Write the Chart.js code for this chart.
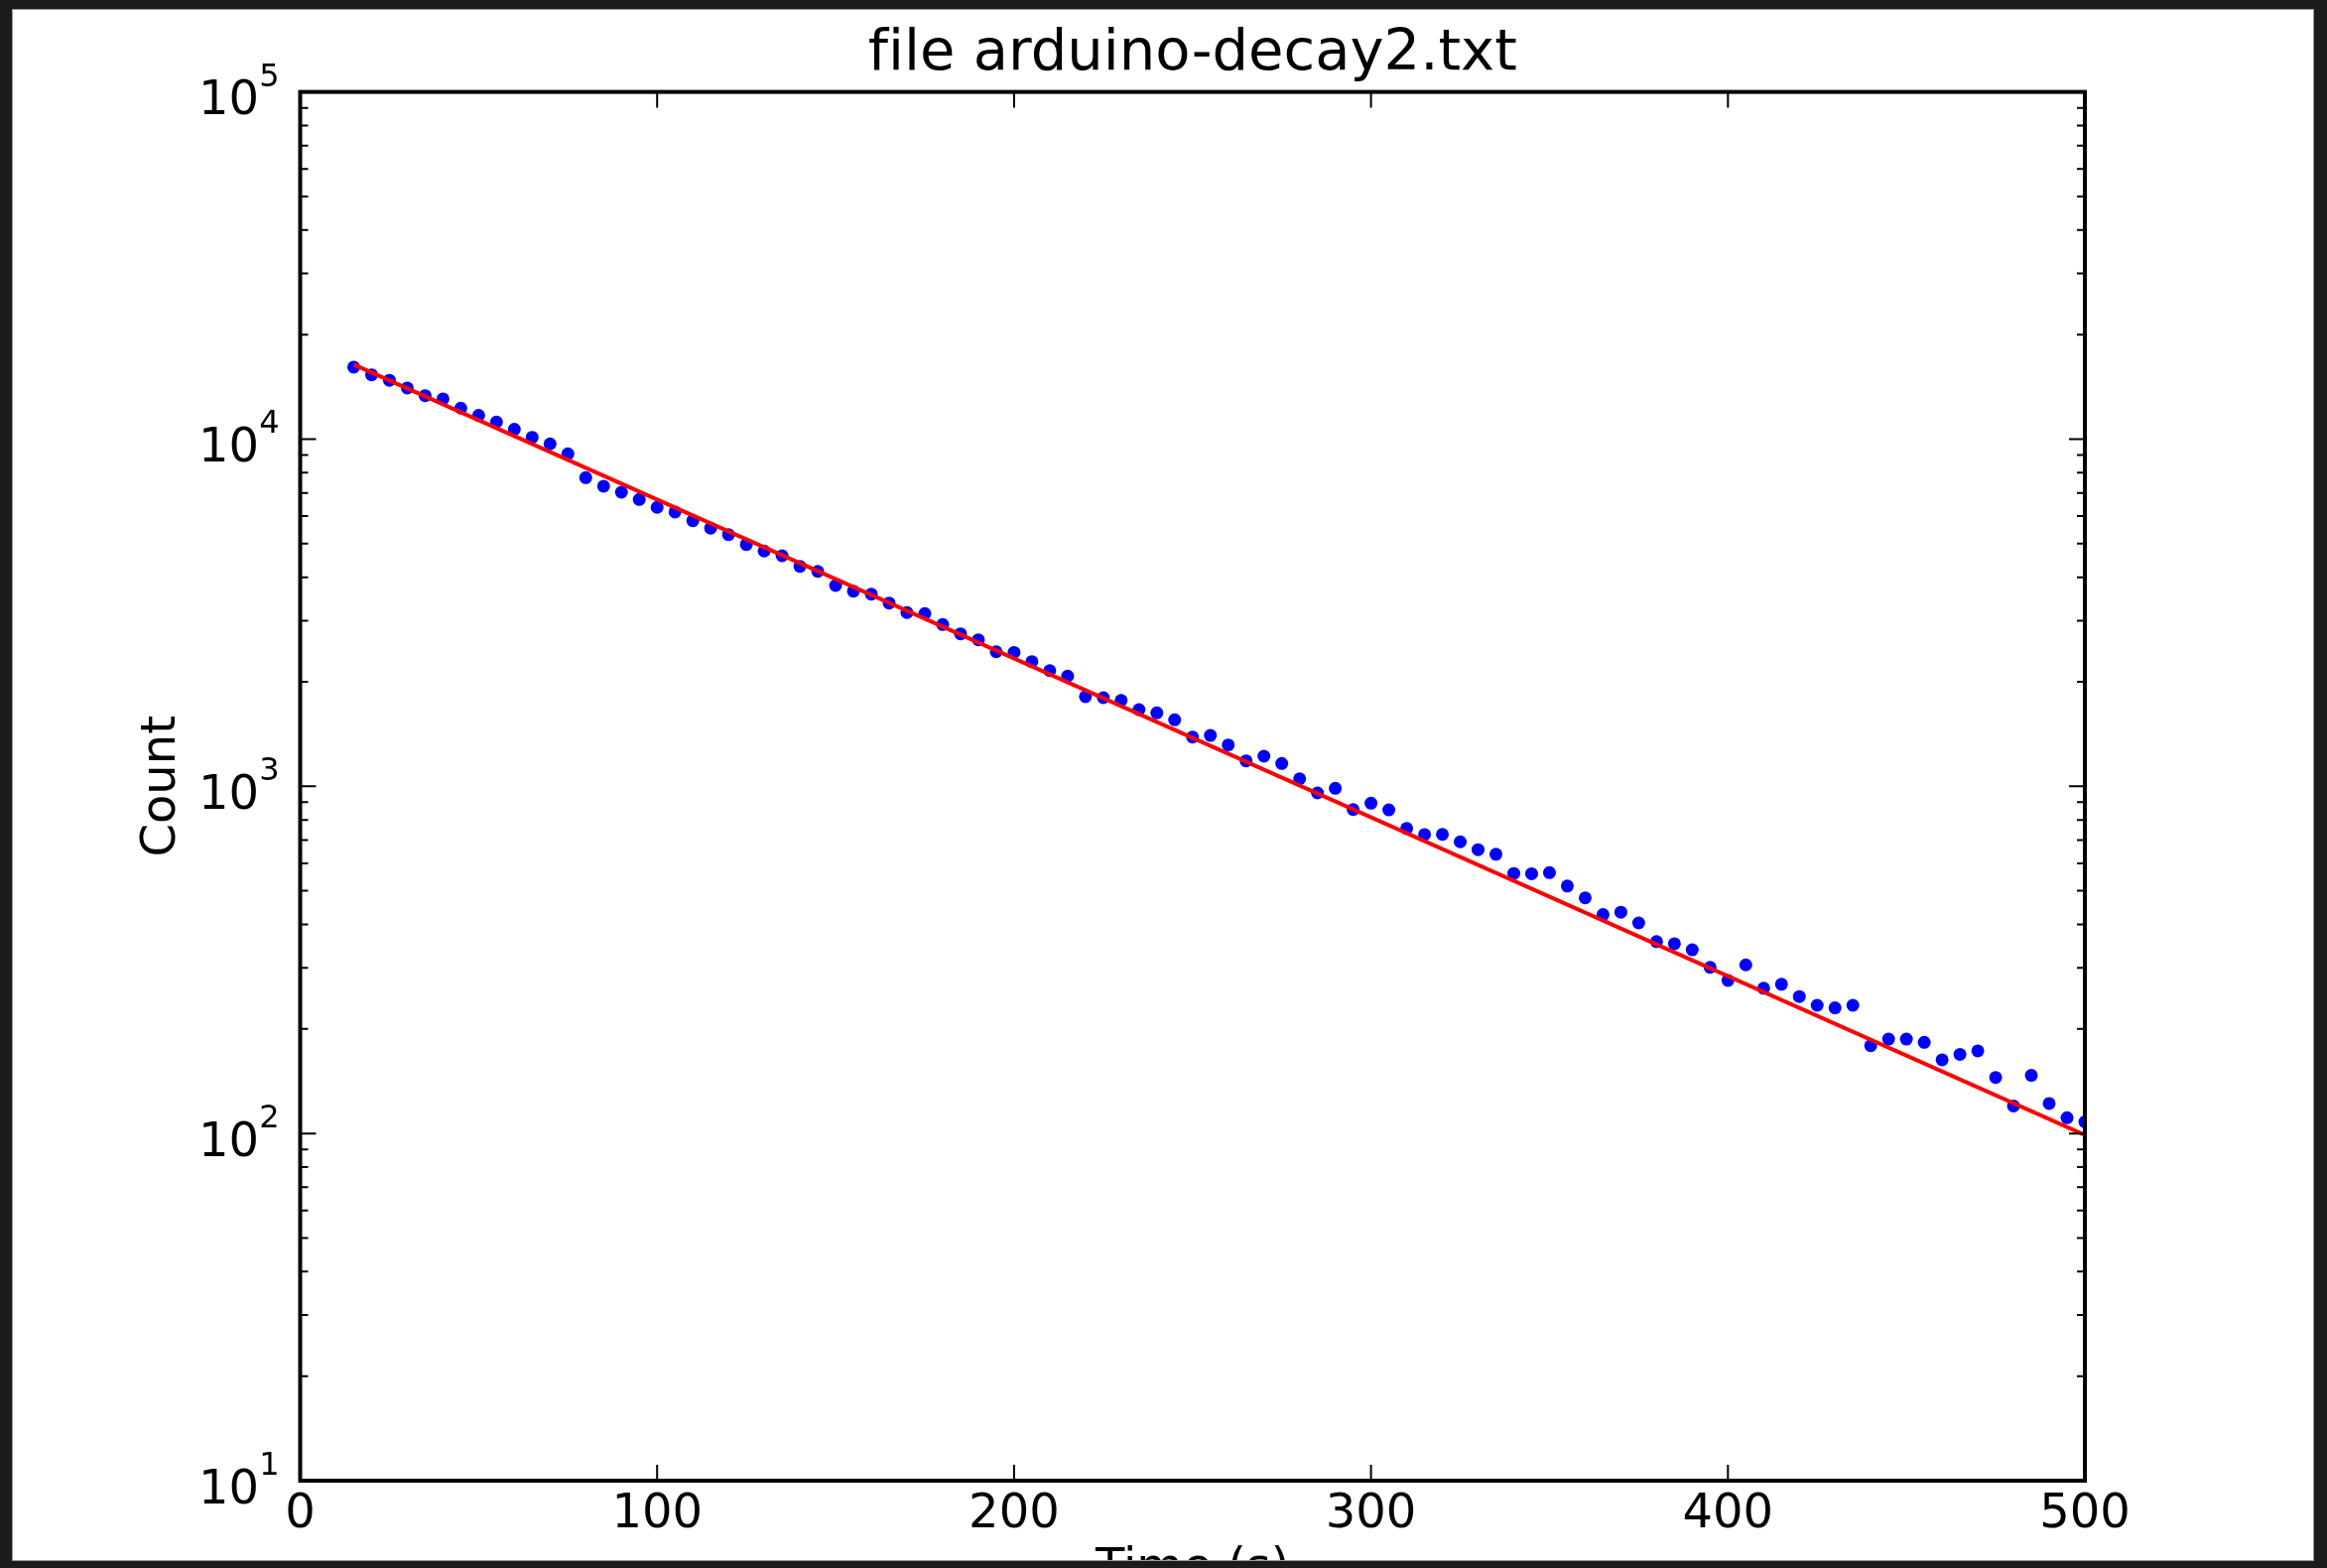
<!DOCTYPE html>
<html>
<head>
<meta charset="utf-8">
<script src="https://cdn.jsdelivr.net/npm/chart.js@4.4.1/dist/chart.umd.min.js"></script>
<style>
html, body { margin: 0; padding: 0; }
body { width: 2345px; height: 1580px; background: #1b1b1b; overflow: hidden; position: relative; }
#frame { position: absolute; left: 13px; top: 10px; width: 2318px; height: 1562px; background: #ffffff; overflow: hidden; box-shadow: 0 0 0 1px #9a9a9a; }
#wrap { position: absolute; left: 0; top: 0; width: 2318px; height: 1640px; }
canvas { font-variant-ligatures: none; }
</style>
</head>
<body>
<div id="frame"><div id="wrap"><canvas id="c" width="2318" height="1640"></canvas></div></div>
<script>
// ---- data ----
const timeValues = [
  15, 20, 25, 30, 35, 40, 45, 50, 55, 60,
  65, 70, 75, 80, 85, 90, 95, 100, 105, 110,
  115, 120, 125, 130, 135, 140, 145, 150, 155, 160,
  165, 170, 175, 180, 185, 190, 195, 200, 205, 210,
  215, 220, 225, 230, 235, 240, 245, 250, 255, 260,
  265, 270, 275, 280, 285, 290, 295, 300, 305, 310,
  315, 320, 325, 330, 335, 340, 345, 350, 355, 360,
  365, 370, 375, 380, 385, 390, 395, 400, 405, 410,
  415, 420, 425, 430, 435, 440, 445, 450, 455, 460,
  465, 470, 475, 480, 485, 490, 495, 500
];
const countValues = [
  16120, 15320, 14770, 14040, 13340, 13060, 12280, 11700, 11200, 10670,
  10120, 9690, 9070, 7745, 7315, 7030, 6700, 6360, 6165, 5820,
  5540, 5310, 4970, 4760, 4613, 4300, 4160, 3787, 3648, 3577,
  3372, 3165, 3144, 2924, 2749, 2642, 2441, 2430, 2286, 2154,
  2077, 1813, 1800, 1768, 1663, 1627, 1554, 1386, 1401, 1315,
  1184, 1221, 1163, 1051, 957, 987, 857, 894, 855, 756,
  726, 727, 692, 657, 637, 561, 560, 564, 516, 477,
  427, 434, 404, 357, 352, 338, 301, 276, 306, 262,
  269, 248, 234, 230, 234, 179, 187, 187, 183, 163,
  169, 173, 145, 120, 147, 122, 111, 108
];
const fitTimes = [15, 500];
const fitCounts = [16400, 99];

const xTickValues = [0, 100, 200, 300, 400, 500];
const xTickLabels = ['0', '100', '200', '300', '400', '500'];
const yTickValues = [10, 100, 1000, 10000, 100000];
const yTickBase = ['10', '10', '10', '10', '10'];
const yTickExponents = ['1', '2', '3', '4', '5'];
const yMinorMultipliers = [2, 3, 4, 5, 6, 7, 8, 9];

const FONT = '"DejaVu Sans", "Bitstream Vera Sans", sans-serif';

const noLigaturePlugin = {
  id: 'noLigatures',
  beforeDraw(chart) {
    const ctx = chart.ctx;
    try { ctx.textRendering = 'optimizeSpeed'; } catch (e) {}
    try { ctx.letterSpacing = '0.01px'; } catch (e) {}
  }
};

const axesPlugin = {
  id: 'mplAxes',
  afterDatasetsDraw(chart) {
    const ctx = chart.ctx;
    const a = chart.chartArea;
    const x = chart.scales.x;
    const y = chart.scales.y;
    ctx.save();
    ctx.strokeStyle = '#000000';
    ctx.lineWidth = 2;
    ctx.beginPath();
    xTickValues.forEach(v => {
      const px = x.getPixelForValue(v);
      if (px <= a.left + 1 || px >= a.right - 1) return;
      ctx.moveTo(px, a.bottom); ctx.lineTo(px, a.bottom - 16);
      ctx.moveTo(px, a.top); ctx.lineTo(px, a.top + 16);
    });
    yTickValues.forEach((v, i) => {
      const py = y.getPixelForValue(v);
      if (py > a.top + 1 && py < a.bottom - 1) {
        ctx.moveTo(a.left, py); ctx.lineTo(a.left + 16, py);
        ctx.moveTo(a.right, py); ctx.lineTo(a.right - 16, py);
      }
      if (i < yTickValues.length - 1) {
        yMinorMultipliers.forEach(m => {
          const pm = y.getPixelForValue(v * m);
          ctx.moveTo(a.left, pm); ctx.lineTo(a.left + 8, pm);
          ctx.moveTo(a.right, pm); ctx.lineTo(a.right - 8, pm);
        });
      }
    });
    ctx.stroke();
    ctx.lineWidth = 4;
    ctx.strokeRect(a.left, a.top, a.right - a.left, a.bottom - a.top);

    // y tick labels 10^n
    ctx.fillStyle = '#000000';
    ctx.textBaseline = 'alphabetic';
    yTickValues.forEach((v, i) => {
      const py = y.getPixelForValue(v);
      const right = a.left - 21;
      ctx.font = '32px ' + FONT;
      const ew = ctx.measureText(yTickExponents[i]).width;
      ctx.textAlign = 'left';
      ctx.fillText(yTickExponents[i], right - ew, py - 6);
      ctx.font = '48px ' + FONT;
      ctx.textAlign = 'right';
      ctx.fillText(yTickBase[i], right - ew, py + 22.5);
    });
    ctx.restore();
  }
};

new Chart(document.getElementById('c'), {
  type: 'scatter',
  data: {
    datasets: [
      {
        type: 'line',
        label: 'fit',
        data: fitTimes.map((t, i) => ({ x: t, y: fitCounts[i] })),
        borderColor: '#ff0000',
        borderWidth: 4,
        pointRadius: 0,
        fill: false,
        tension: 0,
        clip: 0,
        order: 0
      },
      {
        label: 'data',
        data: timeValues.map((t, i) => ({ x: t, y: countValues[i] })),
        backgroundColor: '#0000ff',
        borderColor: '#0000ff',
        borderWidth: 0,
        pointRadius: 6.5,
        pointHoverRadius: 6.5,
        clip: 0,
        order: 1
      }
    ]
  },
  options: {
    responsive: false,
    animation: false,
    devicePixelRatio: 1,
    events: [],
    layout: { padding: { left: 0, right: 230, top: 0, bottom: 0 } },
    plugins: {
      legend: { display: false },
      tooltip: { enabled: false },
      title: {
        display: true,
        fullSize: false,
        text: 'file arduino-decay2.txt',
        color: '#000000',
        font: { family: FONT, size: 57.6, weight: 'normal', lineHeight: 1.2 },
        padding: { top: 10.5, bottom: 3.0 }
      }
    },
    scales: {
      x: {
        type: 'linear',
        position: 'bottom',
        min: 0,
        max: 500,
        afterBuildTicks: s => { s.ticks = xTickValues.map(v => ({ value: v })); },
        afterFit: s => { s.height = 158; },
        grid: { display: false, drawTicks: false },
        border: { display: false },
        ticks: {
          color: '#000000',
          padding: 5.6,
          maxRotation: 0,
          autoSkip: false,
          font: { family: FONT, size: 48, lineHeight: 1.2 },
          callback: (v, i) => xTickLabels[i]
        },
        title: {
          display: true,
          text: 'Time (s)',
          color: '#000000',
          font: { family: FONT, size: 48, lineHeight: 1.2 },
          padding: { top: 39.8, bottom: 39.8 }
        }
      },
      y: {
        type: 'logarithmic',
        min: 10,
        max: 100000,
        afterBuildTicks: s => { s.ticks = yTickValues.map(v => ({ value: v })); },
        afterFit: s => { s.width = 289.5; },
        grid: { display: false, drawTicks: false },
        border: { display: false },
        ticks: { display: false },
        title: {
          display: true,
          text: 'Count',
          color: '#000000',
          font: { family: FONT, size: 48, lineHeight: 1.2 },
          padding: { top: 121.6, bottom: 121.6 }
        }
      }
    }
  },
  plugins: [noLigaturePlugin, axesPlugin]
});
</script>
</body>
</html>
